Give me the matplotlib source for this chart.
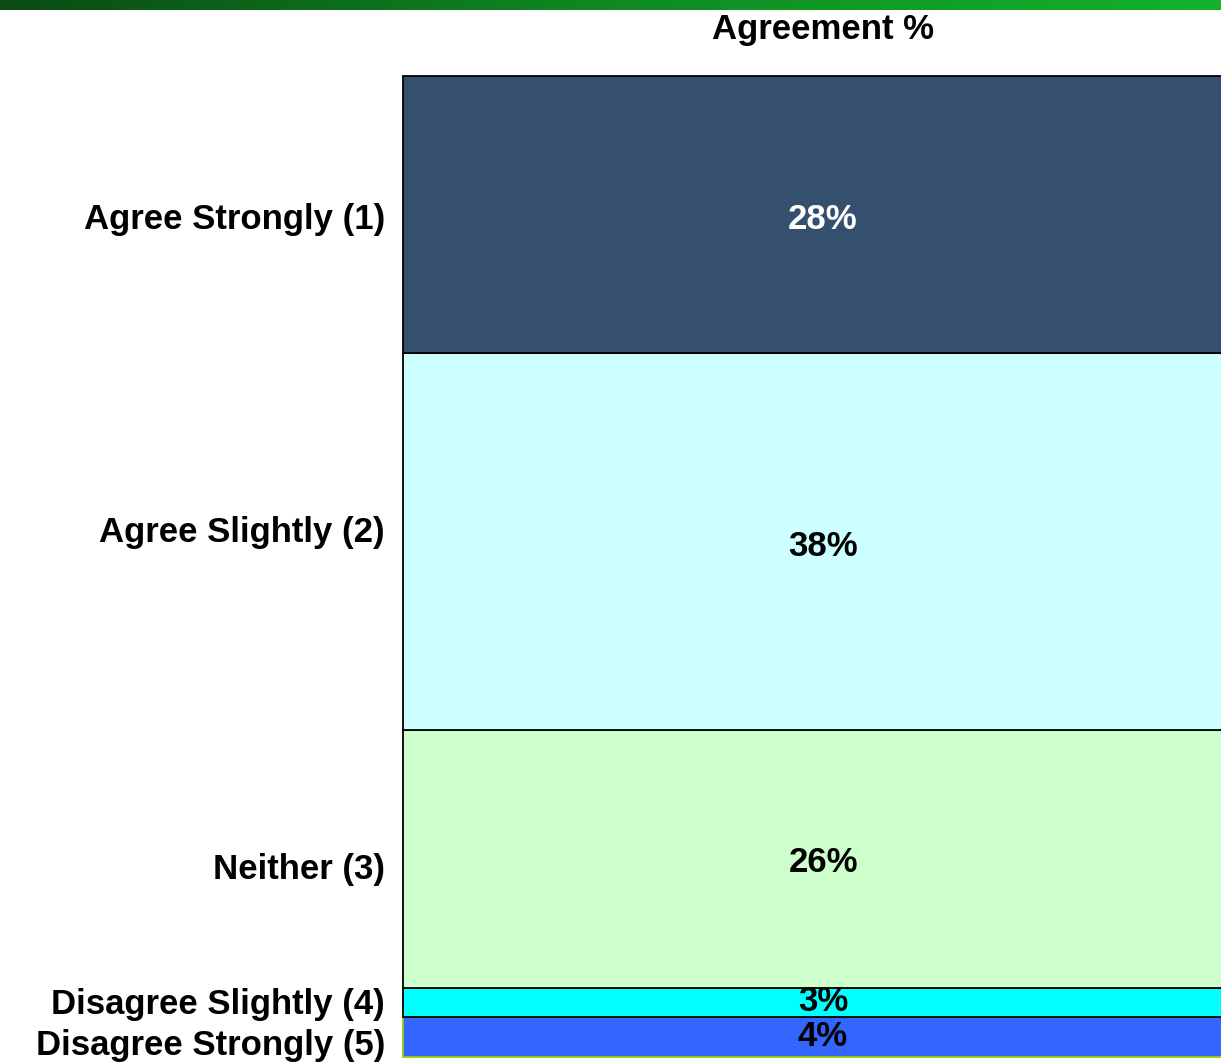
import numpy as np
import matplotlib
matplotlib.use('Agg')
import matplotlib.pyplot as plt
from matplotlib.colors import LinearSegmentedColormap
from matplotlib.transforms import ScaledTranslation

plt.rcParams['font.family'] = ['Liberation Sans', 'DejaVu Sans']
plt.rcParams['font.weight'] = 'bold'

# --- data ---
categories = ["Agree Strongly (1)", "Agree Slightly (2)", "Neither (3)",
              "Disagree Slightly (4)", "Disagree Strongly (5)"]
values = [28, 38, 26, 3, 4]
value_labels = ["28%", "38%", "26%", "3%", "4%"]
title = "Agreement %"

colors = ['#34506e', '#ccffff', '#ccffcc', '#00ffff', '#3366ff']
edges = ['black', 'black', 'black', 'black', '#99cc00']
text_colors = ['white', 'black', 'black', 'black', 'black']
# small vertical nudges (px, +down) to mimic the original layout
cat_nudge = [1, -13, 7, -2, 5]
val_nudge = [5, 5, 4, -1, -1]

W, H = 1221, 1062
FS = 25
fig = plt.figure(figsize=(W / 100, H / 100), dpi=100)

# green banner at the top
band = fig.add_axes([0, 1 - 10 / H, 1, 10 / H])
cmap = LinearSegmentedColormap.from_list('band', ['#0a4a14', '#0f8a22', '#14b22c'])
band.imshow(np.linspace(0, 1, 256)[None, :], aspect='auto', cmap=cmap)
band.axis('off')

# single stacked column, stretched past the right edge
left, right = 403, 1243
top, bottom = 76, 1057
ax = fig.add_axes([left / W, 1 - bottom / H, (right - left) / W, (bottom - top) / H])

total = sum(values)
starts = np.cumsum([0] + values[:-1])
centers = []
for i, (v, s) in enumerate(zip(values, starts)):
    ax.bar(0, v, bottom=s, width=1.0, color=colors[i], edgecolor=edges[i],
           linewidth=1.3, clip_on=False, zorder=10 - i)
    centers.append(s + v / 2)
    t = ax.text(0, s + v / 2, value_labels[i], ha='center', va='center',
                fontsize=FS, fontweight='bold', color=text_colors[i], zorder=20)
    t.set_transform(t.get_transform() + ScaledTranslation(0, -val_nudge[i] / 100, fig.dpi_scale_trans))

ax.set_xlim(-0.5, 0.5)
ax.set_ylim(total, 0)
ax.set_xticks([])
ax.set_yticks(centers)
ax.set_yticklabels(categories, fontsize=FS, fontweight='bold')
ax.tick_params(axis='y', length=0, pad=13)
for lab, dy in zip(ax.get_yticklabels(), cat_nudge):
    lab.set_transform(lab.get_transform() + ScaledTranslation(0, -dy / 100, fig.dpi_scale_trans))
for sp in ax.spines.values():
    sp.set_visible(False)

ax.text(0.5, 1 + 46 / (bottom - top), title, transform=ax.transAxes,
        ha='center', va='center', fontsize=FS, fontweight='bold')

fig.savefig('out.png', dpi=100)
